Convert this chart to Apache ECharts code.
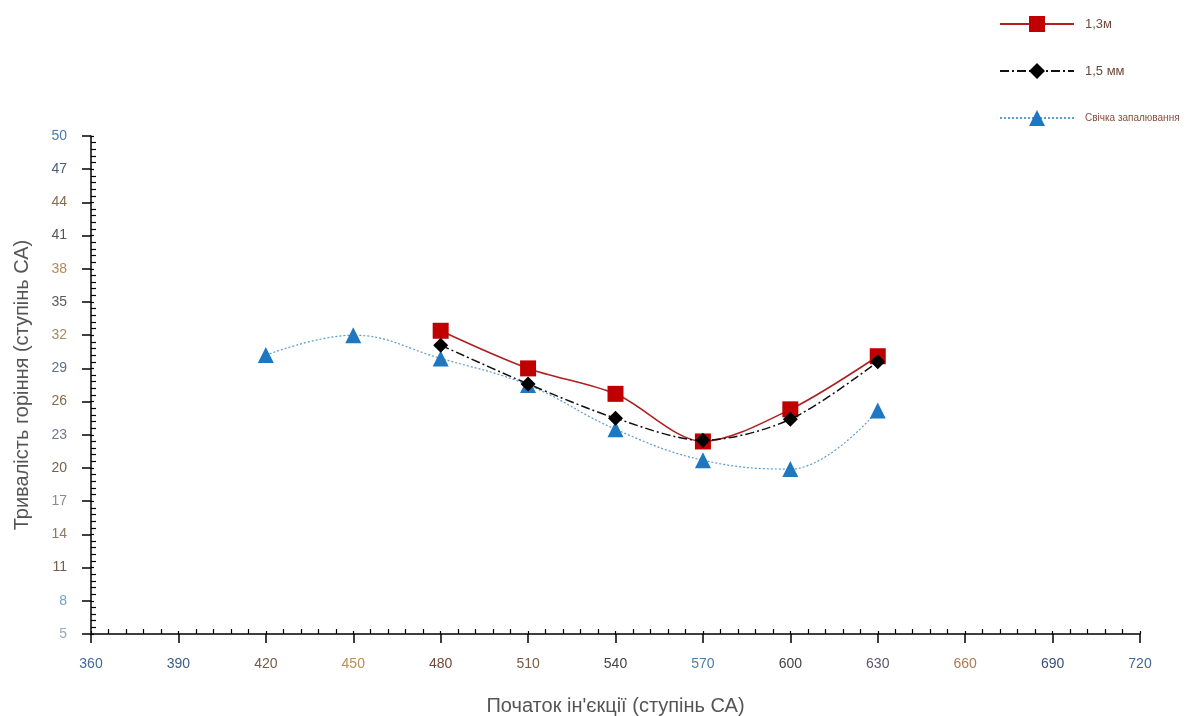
<!DOCTYPE html>
<html>
<head>
<meta charset="utf-8">
<script src="https://cdn.jsdelivr.net/npm/echarts@6/dist/echarts.min.js"></script>
<style>html,body{margin:0;padding:0;background:#fff}#c{width:1194px;height:716px}</style>
</head>
<body>
<div id="c"></div>
<script>
// ---- data ----
var seriesNames = ['1,3м', '1,5 мм', 'Свічка запалювання'];
var xRed = [480, 510, 540, 570, 600, 630];
var yRed = [32.4, 29.0, 26.7, 22.4, 25.3, 30.1];
var xBlack = [480, 510, 540, 570, 600, 630];
var yBlack = [31.1, 27.6, 24.5, 22.5, 24.4, 29.6];
var xBlue = [420, 450, 480, 510, 540, 570, 600, 630];
var yBlue = [30.2, 32.0, 29.9, 27.5, 23.5, 20.7, 19.9, 25.2];
var xTicks = [360, 390, 420, 450, 480, 510, 540, 570, 600, 630, 660, 690, 720];
var yTicks = [5, 8, 11, 14, 17, 20, 23, 26, 29, 32, 35, 38, 41, 44, 47, 50];

// ---- label colours (style) ----
var xLabelColors = ['#3f6a9a','#3b5d8c','#7a5a44','#b98d55','#6e4a3c','#7a5a44','#444','#4a7fa8','#444','#5e5470','#b07a50','#3b5078','#3f6a9a'];
var yLabelColors = ['#9ab','#6aa7c8','#7a5a44','#8a7a66','#8a8a8a','#7a6048','#6d7a90','#8a6a4a','#5e6e86','#a88a60','#5a5a5a','#b08a58','#555','#8a6a4a','#4a5a80','#4a78b0'];

function pairs(xs, ys) { return xs.map(function (x, i) { return [x, ys[i]]; }); }
function richFor(vals, cols) {
  var r = {};
  vals.forEach(function (v, i) { r['c' + i] = { color: cols[i], fontSize: 14, fontFamily: 'Liberation Sans, Arial' }; });
  return r;
}

var chart = echarts.init(document.getElementById('c'), null, { renderer: 'canvas' });
var axisNameStyle = { fontSize: 20, color: '#555', fontFamily: 'Liberation Sans, Arial' };

chart.setOption({
  animation: false,
  backgroundColor: '#fff',
  grid: { left: 91, right: 54, top: 136, bottom: 82, containLabel: false, outerBoundsMode: 'none' },
  legend: {
    orient: 'vertical',
    left: 994,
    top: 11,
    itemWidth: 74,
    itemHeight: 20,
    itemGap: 31,
    data: [
      { name: seriesNames[0], textStyle: { fontSize: 13, color: '#6e4a3c' } },
      { name: seriesNames[1], textStyle: { fontSize: 13, color: '#6e4a3c' } },
      { name: seriesNames[2], textStyle: { fontSize: 10, color: '#8a4a3a' } }
    ],
    textStyle: { fontFamily: 'Liberation Sans, Arial', padding: [0, 0, 0, 6] }
  },
  xAxis: [{
    type: 'value', min: xTicks[0], max: xTicks[xTicks.length - 1], interval: 30,
    name: 'Початок ін\'єкції (ступінь СА)', nameLocation: 'middle', nameGap: 62,
    nameTextStyle: axisNameStyle,
    axisLine: { show: true, onZero: false, lineStyle: { color: '#000', width: 1.5 } },
    axisTick: { show: true, inside: false, length: 9, lineStyle: { color: '#000', width: 1.5 } },
    axisLabel: {
      margin: 23,
      formatter: function (v) { var i = xTicks.indexOf(v); return i < 0 ? '' : '{c' + i + '|' + v + '}'; },
      rich: richFor(xTicks, xLabelColors)
    },
    splitLine: { show: false }
  }, {
    type: 'value', min: xTicks[0], max: xTicks[xTicks.length - 1], interval: 30, position: 'bottom',
    gridIndex: 0,
    axisLine: { show: false, onZero: false },
    axisTick: { show: true, inside: true, length: 3, lineStyle: { color: '#000', width: 1.2 } },
    minorTick: { show: true, splitNumber: 5, length: 5, lineStyle: { color: '#000', width: 1.2 } },
    axisLabel: { show: false },
    splitLine: { show: false }
  }],
  yAxis: [{
    type: 'value', min: yTicks[0], max: yTicks[yTicks.length - 1], interval: 3,
    name: 'Тривалість горіння (ступінь СА)', nameLocation: 'middle', nameGap: 59,
    nameTextStyle: axisNameStyle,
    axisLine: { show: true, onZero: false, lineStyle: { color: '#000', width: 1.5 } },
    axisTick: { show: true, inside: false, length: 9, lineStyle: { color: '#000', width: 1.5 } },
    axisLabel: {
      margin: 24,
      formatter: function (v) { var i = yTicks.indexOf(v); return i < 0 ? '' : '{c' + i + '|' + v + '}'; },
      rich: richFor(yTicks, yLabelColors)
    },
    splitLine: { show: false }
  }, {
    type: 'value', min: yTicks[0], max: yTicks[yTicks.length - 1], interval: 3, position: 'left',
    axisLine: { show: false, onZero: false },
    axisTick: { show: true, inside: true, length: 3, lineStyle: { color: '#000', width: 1.2 } },
    minorTick: { show: true, splitNumber: 5, length: 5, lineStyle: { color: '#000', width: 1.2 } },
    axisLabel: { show: false },
    splitLine: { show: false }
  }],
  series: [{
    name: seriesNames[0], type: 'line', data: pairs(xRed, yRed), smooth: 0.3,
    symbol: 'rect', symbolSize: 16,
    itemStyle: { color: '#c00000' },
    lineStyle: { color: '#b02020', width: 1.6, type: 'solid' },
    z: 3
  }, {
    name: seriesNames[1], type: 'line', data: pairs(xBlack, yBlack), smooth: 0.3,
    symbol: 'diamond', symbolSize: 15,
    itemStyle: { color: '#000' },
    lineStyle: { color: '#111', width: 1.5, type: [9, 3, 2, 3] },
    z: 4
  }, {
    name: seriesNames[2], type: 'line', data: pairs(xBlue, yBlue), smooth: 0.4,
    symbol: 'triangle', symbolSize: 16,
    itemStyle: { color: '#1f77c0' },
    lineStyle: { color: '#5b9bd0', width: 1.2, type: [2, 2] },
    z: 2
  }]
});
</script>
</body>
</html>
